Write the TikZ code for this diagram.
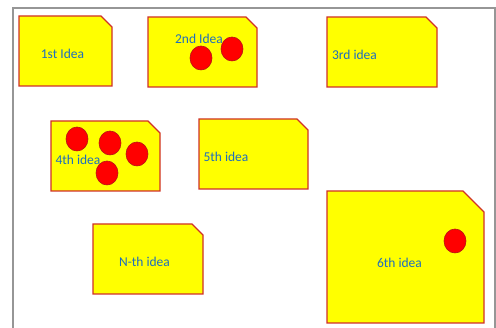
\documentclass[tikz,border=0pt]{standalone}
\usepackage{fontspec}
\setmainfont{Carlito}
\begin{document}
\begin{tikzpicture}[x=1pt,y=-1pt,
  boxst/.style={draw={rgb,255:red,208;green,48;blue,40},fill={rgb,255:red,255;green,255;blue,0},line width=1.2pt,line join=miter},
  dotst/.style={draw={rgb,255:red,180;green,20;blue,20},fill={rgb,255:red,255;green,0;blue,0},line width=0.6pt},
  lbl/.style={text={rgb,255:red,31;green,110;blue,190},font=\fontsize{13.5}{15}\selectfont,inner sep=0pt}]
\useasboundingbox (0,0) rectangle (496,328);
\draw[line width=1.5pt,draw={rgb,255:red,150;green,150;blue,150}] (13,332) -- (13,8) -- (495,8) -- (495,332);
\newcommand\ideabox[6]{%
  \draw[boxst] (#2,#3) -- ({#4-#6},#3) -- (#4,{#3+#6}) -- (#4,#5) -- (#2,#5) -- cycle;
  \coordinate (#1) at ({(#2+#4)/2},{(#3+#5)/2});}
\ideabox{b1}{19}{16}{112}{86}{11}
\ideabox{b2}{148}{17}{257}{87}{11}
\ideabox{b3}{327}{17}{437}{87}{11}
\ideabox{b4}{51}{121}{160}{191}{12}
\ideabox{b5}{199}{119}{308}{189}{11}
\ideabox{bn}{93}{224}{203}{294}{11}
\ideabox{b6}{327}{191}{484}{323}{21}
\node[lbl] (t1) at (62.5,54) {1st Idea};
\node[lbl] (t2) at (199,39) {2nd Idea};
\node[lbl] (t3) at (354.5,55) {3rd idea};
\node[lbl] (t4) at (78,160) {4th idea};
\node[lbl] (t5) at (226,157) {5th idea};
\node[lbl] (tn) at (144.5,262) {N-th idea};
\node[lbl] (t6) at (399.5,263) {6th idea};
\foreach \cx/\cy in {201/58, 232/49, 77/139, 110/143, 137/154, 107/173, 455/241}
  \draw[dotst] (\cx,\cy) ellipse [x radius=11, y radius=12];
\end{tikzpicture}
\end{document}
